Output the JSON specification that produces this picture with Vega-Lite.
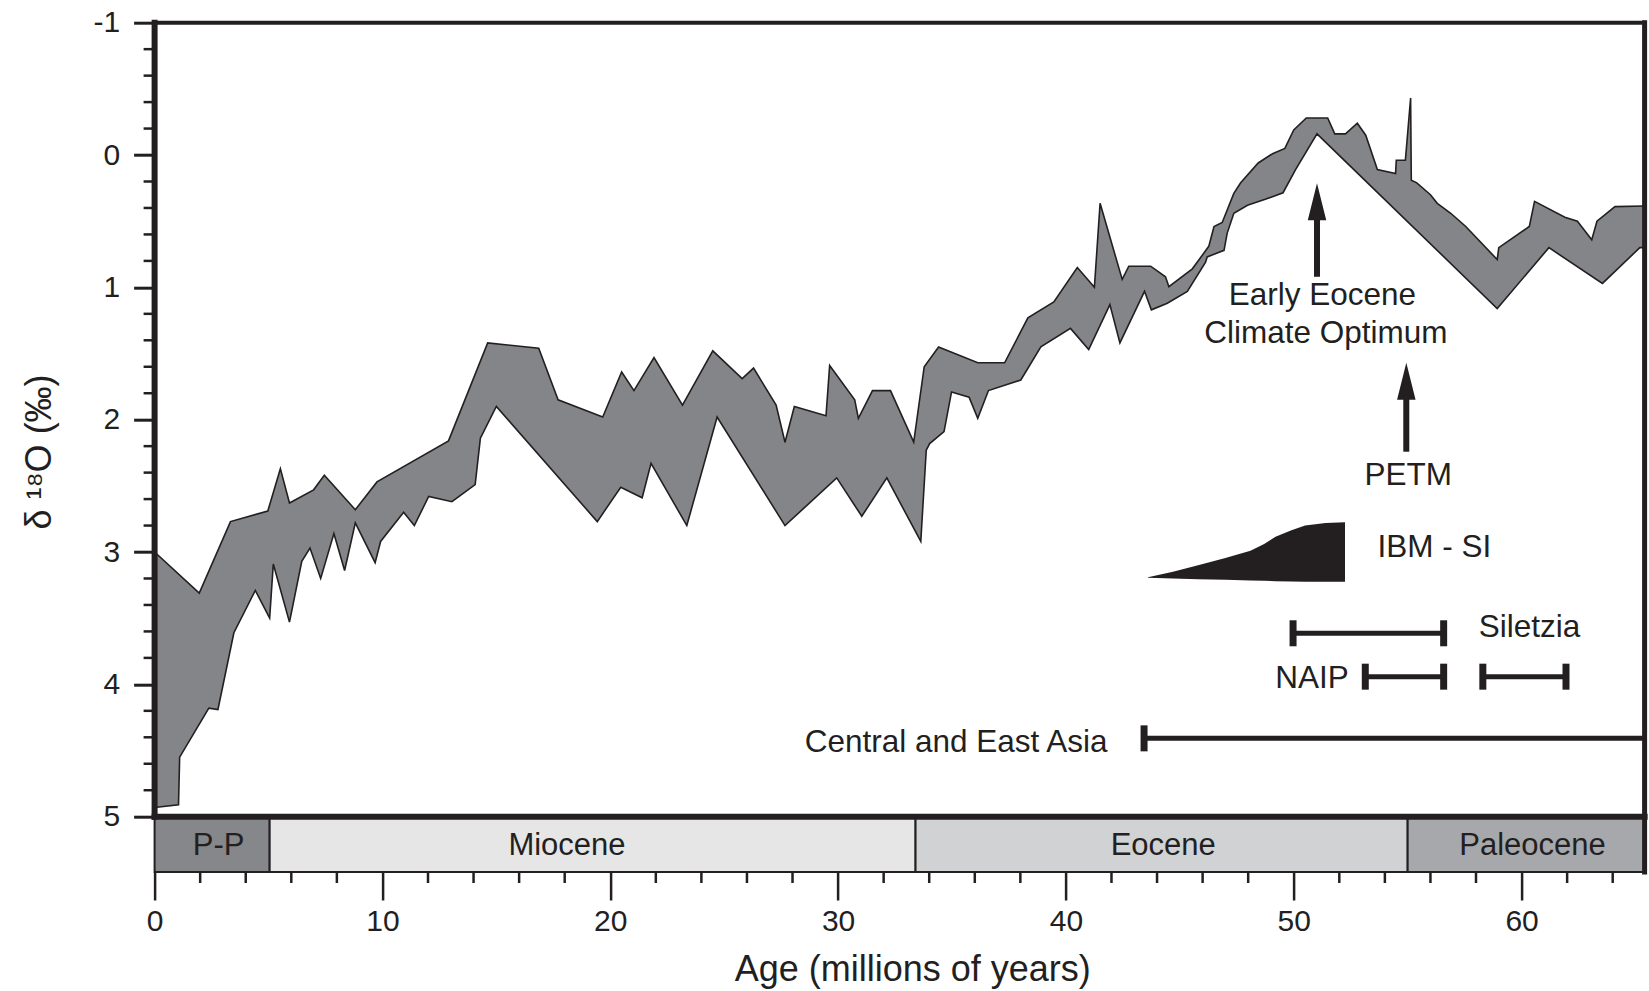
{
  "$schema": "https://vega.github.io/schema/vega-lite/v6.json",
  "autosize": {"type": "none"},
  "width": 1490,
  "height": 849.3,
  "padding": {"left": 154.6, "top": 22.7, "right": 4.4, "bottom": 119},
  "background": "white",
  "config": {"view": {"stroke": null}, "font": "Liberation Sans"},
  "datasets": {
    "upper": [
      {"age": 0, "d18O": 3.0}, {"age": 1.96, "d18O": 3.31}, {"age": 3.33, "d18O": 2.77}, {"age": 4.97, "d18O": 2.69},
      {"age": 5.52, "d18O": 2.37}, {"age": 5.92, "d18O": 2.63}, {"age": 6.98, "d18O": 2.53}, {"age": 7.45, "d18O": 2.42},
      {"age": 8.81, "d18O": 2.68}, {"age": 9.76, "d18O": 2.47}, {"age": 12.9, "d18O": 2.16}, {"age": 14.62, "d18O": 1.42},
      {"age": 16.86, "d18O": 1.46}, {"age": 17.71, "d18O": 1.85}, {"age": 19.67, "d18O": 1.98}, {"age": 20.5, "d18O": 1.64},
      {"age": 21.04, "d18O": 1.78}, {"age": 21.92, "d18O": 1.53}, {"age": 23.17, "d18O": 1.89}, {"age": 24.5, "d18O": 1.48},
      {"age": 25.79, "d18O": 1.69}, {"age": 26.29, "d18O": 1.61}, {"age": 27.28, "d18O": 1.89}, {"age": 27.67, "d18O": 2.17},
      {"age": 28.08, "d18O": 1.9}, {"age": 29.47, "d18O": 1.97}, {"age": 29.63, "d18O": 1.59}, {"age": 30.73, "d18O": 1.85},
      {"age": 30.89, "d18O": 1.99}, {"age": 31.51, "d18O": 1.78}, {"age": 32.3, "d18O": 1.78}, {"age": 33.32, "d18O": 2.17},
      {"age": 33.78, "d18O": 1.6}, {"age": 34.41, "d18O": 1.45}, {"age": 36.13, "d18O": 1.57}, {"age": 37.31, "d18O": 1.57},
      {"age": 38.33, "d18O": 1.23}, {"age": 39.47, "d18O": 1.11}, {"age": 40.5, "d18O": 0.85}, {"age": 41.25, "d18O": 1.0},
      {"age": 41.5, "d18O": 0.365}, {"age": 42.47, "d18O": 0.94}, {"age": 42.76, "d18O": 0.84}, {"age": 43.72, "d18O": 0.84},
      {"age": 44.37, "d18O": 0.92}, {"age": 44.52, "d18O": 0.995}, {"age": 45.55, "d18O": 0.86}, {"age": 46.27, "d18O": 0.69},
      {"age": 46.5, "d18O": 0.54}, {"age": 46.86, "d18O": 0.51}, {"age": 47.37, "d18O": 0.29}, {"age": 47.67, "d18O": 0.21},
      {"age": 48.44, "d18O": 0.06}, {"age": 49.07, "d18O": -0.01}, {"age": 49.61, "d18O": -0.05}, {"age": 50.0, "d18O": -0.19},
      {"age": 50.55, "d18O": -0.28}, {"age": 51.49, "d18O": -0.28}, {"age": 51.8, "d18O": -0.16}, {"age": 52.27, "d18O": -0.16},
      {"age": 52.79, "d18O": -0.24}, {"age": 53.16, "d18O": -0.15}, {"age": 53.67, "d18O": 0.11}, {"age": 54.47, "d18O": 0.14},
      {"age": 54.5, "d18O": 0.04}, {"age": 54.9, "d18O": 0.04}, {"age": 55.13, "d18O": -0.43}, {"age": 55.16, "d18O": 0.19},
      {"age": 55.4, "d18O": 0.21}, {"age": 56.0, "d18O": 0.3}, {"age": 56.3, "d18O": 0.365}, {"age": 56.89, "d18O": 0.44},
      {"age": 57.55, "d18O": 0.54}, {"age": 58.93, "d18O": 0.79}, {"age": 59.0, "d18O": 0.7}, {"age": 60.34, "d18O": 0.54},
      {"age": 60.57, "d18O": 0.35}, {"age": 61.9, "d18O": 0.47}, {"age": 62.45, "d18O": 0.5}, {"age": 63.08, "d18O": 0.64},
      {"age": 63.31, "d18O": 0.5}, {"age": 64.1, "d18O": 0.39}, {"age": 65.4, "d18O": 0.385}
    ],
    "lower": [
      {"age": 0, "d18O": 4.93}, {"age": 1.05, "d18O": 4.91}, {"age": 1.1, "d18O": 4.55}, {"age": 2.38, "d18O": 4.18},
      {"age": 2.78, "d18O": 4.19}, {"age": 3.48, "d18O": 3.61}, {"age": 4.42, "d18O": 3.29}, {"age": 5.05, "d18O": 3.5},
      {"age": 5.21, "d18O": 3.09}, {"age": 5.92, "d18O": 3.53}, {"age": 6.46, "d18O": 3.07}, {"age": 6.82, "d18O": 2.97},
      {"age": 7.29, "d18O": 3.2}, {"age": 7.87, "d18O": 2.86}, {"age": 8.34, "d18O": 3.14}, {"age": 8.81, "d18O": 2.78},
      {"age": 9.68, "d18O": 3.08}, {"age": 9.92, "d18O": 2.92}, {"age": 10.93, "d18O": 2.7}, {"age": 11.4, "d18O": 2.8},
      {"age": 12.03, "d18O": 2.58}, {"age": 13.05, "d18O": 2.62}, {"age": 14.07, "d18O": 2.49}, {"age": 14.3, "d18O": 2.14},
      {"age": 15.0, "d18O": 1.9}, {"age": 19.43, "d18O": 2.77}, {"age": 20.46, "d18O": 2.51}, {"age": 21.4, "d18O": 2.59},
      {"age": 21.79, "d18O": 2.33}, {"age": 23.36, "d18O": 2.8}, {"age": 24.69, "d18O": 1.98}, {"age": 27.67, "d18O": 2.8},
      {"age": 29.94, "d18O": 2.44}, {"age": 31.04, "d18O": 2.73}, {"age": 32.14, "d18O": 2.44}, {"age": 33.63, "d18O": 2.92},
      {"age": 33.87, "d18O": 2.23}, {"age": 34.02, "d18O": 2.18}, {"age": 34.65, "d18O": 2.09}, {"age": 34.98, "d18O": 1.79},
      {"age": 35.75, "d18O": 1.83}, {"age": 36.13, "d18O": 1.99}, {"age": 36.6, "d18O": 1.78}, {"age": 38.02, "d18O": 1.7},
      {"age": 38.9, "d18O": 1.45}, {"age": 40.2, "d18O": 1.31}, {"age": 41.0, "d18O": 1.47}, {"age": 41.93, "d18O": 1.13},
      {"age": 42.37, "d18O": 1.42}, {"age": 43.45, "d18O": 1.03}, {"age": 43.75, "d18O": 1.17}, {"age": 44.45, "d18O": 1.12},
      {"age": 45.33, "d18O": 1.03}, {"age": 46.13, "d18O": 0.81}, {"age": 46.2, "d18O": 0.77}, {"age": 46.94, "d18O": 0.72},
      {"age": 47.08, "d18O": 0.59}, {"age": 47.37, "d18O": 0.44}, {"age": 47.97, "d18O": 0.38}, {"age": 48.75, "d18O": 0.335},
      {"age": 49.53, "d18O": 0.285}, {"age": 50.08, "d18O": 0.11}, {"age": 51.02, "d18O": -0.16}, {"age": 58.93, "d18O": 1.16},
      {"age": 61.2, "d18O": 0.7}, {"age": 63.55, "d18O": 0.97}, {"age": 65.19, "d18O": 0.7}, {"age": 65.4, "d18O": 0.7}
    ],
    "epochs": [
      {"name": "P-P", "start": 0, "end": 5.05, "label_at": 2.81},
      {"name": "Miocene", "start": 5.05, "end": 33.4, "label_at": 18.1},
      {"name": "Eocene", "start": 33.4, "end": 55.0, "label_at": 44.27},
      {"name": "Paleocene", "start": 55.0, "end": 65.4, "label_at": 60.48}
    ],
    "wedge": [
      {"age": 43.6, "top": 3.19, "bottom": 3.195}, {"age": 44.7, "top": 3.15, "bottom": 3.2},
      {"age": 45.8, "top": 3.1, "bottom": 3.205}, {"age": 47.0, "top": 3.045, "bottom": 3.21},
      {"age": 48.1, "top": 2.99, "bottom": 3.215}, {"age": 48.7, "top": 2.94, "bottom": 3.218},
      {"age": 49.2, "top": 2.885, "bottom": 3.22}, {"age": 49.9, "top": 2.835, "bottom": 3.222},
      {"age": 50.5, "top": 2.8, "bottom": 3.224}, {"age": 51.4, "top": 2.78, "bottom": 3.225},
      {"age": 52.25, "top": 2.775, "bottom": 3.225}
    ],
    "ranges": [
      {"name": "Siletzia (upper)", "start": 49.97, "end": 56.58, "d18O": 3.614},
      {"name": "NAIP", "start": 53.14, "end": 56.58, "d18O": 3.942},
      {"name": "Siletzia (lower)", "start": 58.3, "end": 61.95, "d18O": 3.942},
      {"name": "Central and East Asia", "start": 43.43, "end": 65.4, "d18O": 4.408}
    ],
    "arrows": [
      {"name": "EECO", "age": 51.02, "tail": 0.92, "tip": 0.214, "shaft_end": 0.45},
      {"name": "PETM", "age": 54.94, "tail": 2.242, "tip": 1.569, "shaft_end": 1.8}
    ],
    "notes": [
      {"text": "Early Eocene", "age": 51.26, "d18O": 1.133},
      {"text": "Climate Optimum", "age": 51.41, "d18O": 1.423},
      {"text": "PETM", "age": 55.03, "d18O": 2.494},
      {"text": "IBM - SI", "age": 56.17, "d18O": 3.035},
      {"text": "Siletzia", "age": 60.35, "d18O": 3.64},
      {"text": "NAIP", "age": 50.8, "d18O": 4.03},
      {"text": "Central and East Asia", "age": 35.18, "d18O": 4.509}
    ],
    "yminor": [
      {"v": -0.8}, {"v": -0.6}, {"v": -0.4}, {"v": -0.2}, {"v": 0.2}, {"v": 0.4}, {"v": 0.6}, {"v": 0.8},
      {"v": 1.2}, {"v": 1.4}, {"v": 1.6}, {"v": 1.8}, {"v": 2.2}, {"v": 2.4}, {"v": 2.6}, {"v": 2.8},
      {"v": 3.2}, {"v": 3.4}, {"v": 3.6}, {"v": 3.8}, {"v": 4.2}, {"v": 4.4}, {"v": 4.6}, {"v": 4.8}
    ],
    "xminor": [
      {"v": 2}, {"v": 4}, {"v": 6}, {"v": 8}, {"v": 12}, {"v": 14}, {"v": 16}, {"v": 18},
      {"v": 22}, {"v": 24}, {"v": 26}, {"v": 28}, {"v": 32}, {"v": 34}, {"v": 36}, {"v": 38},
      {"v": 42}, {"v": 44}, {"v": 46}, {"v": 48}, {"v": 52}, {"v": 54}, {"v": 56}, {"v": 58},
      {"v": 62}, {"v": 64}
    ],
    "one": [{}]
  },
  "layer": [
    {
      "data": {"name": "upper"},
      "mark": {"type": "area", "fill": "#848589", "opacity": 1},
      "encoding": {
        "x": {
          "field": "age", "type": "quantitative",
          "scale": {"domain": [0, 65.4], "nice": false, "zero": false},
          "axis": {
            "title": "Age (millions of years)",
            "values": [0, 10, 20, 30, 40, 50, 60],
            "domain": false, "grid": false,
            "tickSize": 28, "tickWidth": 2.5, "tickColor": "#231f20",
            "labelFont": "Liberation Sans",
            "labelFontSize": 30, "labelColor": "#231f20", "labelPadding": 6,
            "labelFlush": false, "labelOverlap": false,
            "titleFont": "Liberation Sans", "titleFontSize": 36, "titleFontWeight": "normal", "titleColor": "#231f20",
            "titleX": 757.6, "titleY": 108, "titleBaseline": "alphabetic", "titleAlign": "center"
          }
        },
        "y": {
          "field": "d18O", "type": "quantitative",
          "scale": {"domain": [-1, 5.418], "reverse": true, "nice": false, "zero": false},
          "axis": {
            "title": "δ ¹⁸O (‰)",
            "values": [-1, 0, 1, 2, 3, 4, 5],
            "labelExpr": "'' + datum.value",
            "domain": false, "grid": false,
            "tickSize": 21, "tickWidth": 3, "tickColor": "#231f20",
            "labelFont": "Liberation Sans", "labelFontSize": 30, "labelColor": "#231f20", "labelPadding": 14,
            "labelFlush": false, "labelOverlap": false,
            "titleFont": "Liberation Sans", "titleFontSize": 36, "titleFontWeight": "normal", "titleColor": "#231f20",
            "titleX": -104.6, "titleY": 428.8, "titleBaseline": "alphabetic", "titleAlign": "center", "titleAngle": 270
          }
        },
        "y2": {"datum": 5}
      }
    },
    {
      "data": {"name": "lower"},
      "mark": {"type": "area", "fill": "white", "opacity": 1},
      "encoding": {
        "x": {"field": "age", "type": "quantitative"},
        "y": {"field": "d18O", "type": "quantitative"},
        "y2": {"datum": 5}
      }
    },
    {
      "data": {"name": "upper"},
      "mark": {"type": "line", "stroke": "#231f20", "strokeWidth": 1.6},
      "encoding": {
        "x": {"field": "age", "type": "quantitative"},
        "y": {"field": "d18O", "type": "quantitative"}
      }
    },
    {
      "data": {"name": "lower"},
      "mark": {"type": "line", "stroke": "#231f20", "strokeWidth": 1.6},
      "encoding": {
        "x": {"field": "age", "type": "quantitative"},
        "y": {"field": "d18O", "type": "quantitative"}
      }
    },
    {
      "data": {"name": "epochs"},
      "mark": {"type": "rect", "stroke": "#231f20", "strokeWidth": 2},
      "encoding": {
        "x": {"field": "start", "type": "quantitative"},
        "x2": {"field": "end"},
        "y": {"datum": 5},
        "y2": {"datum": 5.418},
        "fill": {
          "field": "name", "type": "nominal", "legend": null,
          "scale": {"domain": ["P-P", "Miocene", "Eocene", "Paleocene"], "range": ["#86878a", "#e6e6e7", "#d1d2d4", "#a7a8ab"]}
        }
      }
    },
    {
      "data": {"name": "epochs"},
      "mark": {"type": "text", "font": "Liberation Sans", "fontSize": 31, "color": "#231f20", "align": "center", "baseline": "alphabetic"},
      "encoding": {
        "x": {"field": "label_at", "type": "quantitative"},
        "y": {"datum": 5.29},
        "text": {"field": "name"}
      }
    },
    {
      "data": {"name": "yminor"},
      "mark": {"type": "rule", "stroke": "#231f20", "strokeWidth": 2.5},
      "encoding": {
        "x": {"datum": -0.483},
        "x2": {"datum": 0},
        "y": {"field": "v", "type": "quantitative"}
      }
    },
    {
      "data": {"name": "xminor"},
      "mark": {"type": "rule", "stroke": "#231f20", "strokeWidth": 2.5},
      "encoding": {
        "x": {"field": "v", "type": "quantitative"},
        "y": {"datum": 5.418},
        "y2": {"datum": 5.501}
      }
    },
    {
      "data": {"name": "one"},
      "mark": {"type": "rule", "stroke": "#231f20", "strokeWidth": 4, "strokeCap": "square"},
      "encoding": {"x": {"datum": 0}, "x2": {"datum": 65.4}, "y": {"datum": -1}}
    },
    {
      "data": {"name": "one"},
      "mark": {"type": "rule", "stroke": "#231f20", "strokeWidth": 6, "strokeCap": "square"},
      "encoding": {"x": {"datum": 0}, "x2": {"datum": 65.4}, "y": {"datum": 5}}
    },
    {
      "data": {"name": "one"},
      "mark": {"type": "rule", "stroke": "#231f20", "strokeWidth": 5, "strokeCap": "square"},
      "encoding": {"x": {"datum": 65.4}, "y": {"datum": -1}, "y2": {"datum": 5.418}}
    },
    {
      "data": {"name": "one"},
      "mark": {"type": "rule", "stroke": "#231f20", "strokeWidth": 6, "strokeCap": "square"},
      "encoding": {"x": {"datum": 0}, "y": {"datum": -1}, "y2": {"datum": 5}}
    },
    {
      "data": {"name": "wedge"},
      "mark": {"type": "area", "fill": "#231f20", "opacity": 1},
      "encoding": {
        "x": {"field": "age", "type": "quantitative"},
        "y": {"field": "top", "type": "quantitative"},
        "y2": {"field": "bottom"}
      }
    },
    {
      "data": {"name": "ranges"},
      "mark": {"type": "rule", "stroke": "#231f20", "strokeWidth": 5},
      "encoding": {
        "x": {"field": "start", "type": "quantitative"},
        "x2": {"field": "end"},
        "y": {"field": "d18O", "type": "quantitative"}
      }
    },
    {
      "data": {"name": "ranges"},
      "transform": [
        {"fold": ["start", "end"], "as": ["which", "capx"]},
        {"filter": "datum.which === 'start' || datum.name !== 'Central and East Asia'"}
      ],
      "mark": {"type": "rule", "stroke": "#231f20", "strokeWidth": 7, "yOffset": -13, "y2Offset": 13},
      "encoding": {
        "x": {"field": "capx", "type": "quantitative"},
        "y": {"field": "d18O", "type": "quantitative"},
        "y2": {"field": "d18O"}
      }
    },
    {
      "data": {"name": "arrows"},
      "mark": {"type": "rule", "stroke": "#231f20", "strokeWidth": 6},
      "encoding": {
        "x": {"field": "age", "type": "quantitative"},
        "y": {"field": "tail", "type": "quantitative"},
        "y2": {"field": "shaft_end"}
      }
    },
    {
      "data": {"name": "arrows"},
      "mark": {"type": "point", "shape": "M0,0L0.5,2L-0.5,2Z", "size": 1369, "filled": true, "fill": "#231f20", "opacity": 1, "strokeWidth": 0},
      "encoding": {
        "x": {"field": "age", "type": "quantitative"},
        "y": {"field": "tip", "type": "quantitative"}
      }
    },
    {
      "data": {"name": "notes"},
      "mark": {"type": "text", "font": "Liberation Sans", "fontSize": 31.5, "color": "#231f20", "align": "center", "baseline": "alphabetic"},
      "encoding": {
        "x": {"field": "age", "type": "quantitative"},
        "y": {"field": "d18O", "type": "quantitative"},
        "text": {"field": "text"}
      }
    }
  ]
}
